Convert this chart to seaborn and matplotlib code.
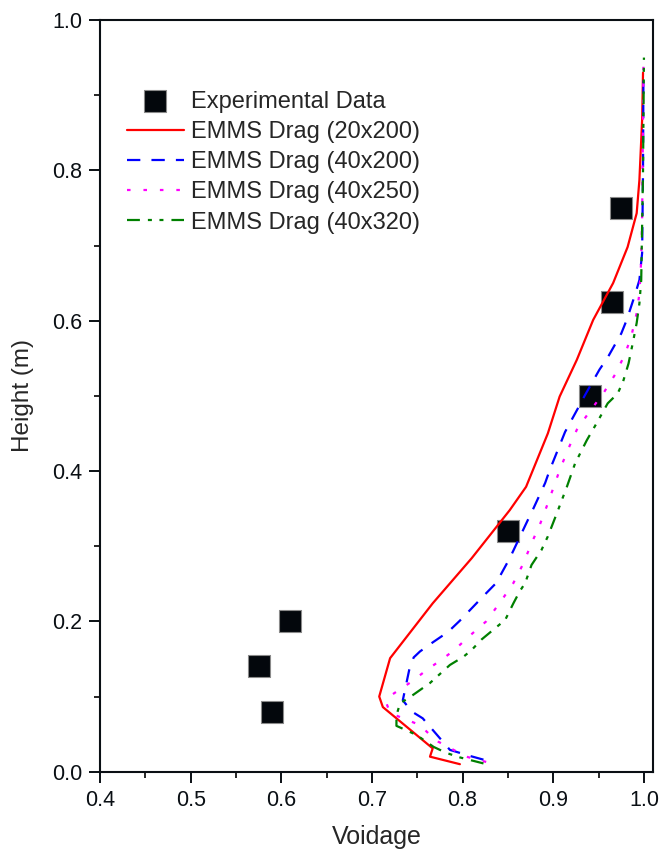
import numpy as np
import matplotlib
matplotlib.use("Agg")
import matplotlib.pyplot as plt
import seaborn as sns
from matplotlib.ticker import MultipleLocator

# ── Data ─────────────────────────────────────────────────────────────────────
exp_x = [0.59, 0.575, 0.61, 0.85, 0.94, 0.965, 0.975]
exp_y = [0.08, 0.14, 0.20, 0.32, 0.50, 0.625, 0.75]

red_x = [0.797, 0.764, 0.767, 0.712, 0.708, 0.720, 0.767, 0.810, 0.852, 0.870,
         0.894, 0.907, 0.926, 0.944, 0.966, 0.982, 0.992, 0.995, 0.998, 0.999]
red_y = [0.010, 0.020, 0.031, 0.086, 0.100, 0.151, 0.224, 0.284, 0.348, 0.379,
         0.450, 0.499, 0.548, 0.601, 0.650, 0.698, 0.743, 0.787, 0.867, 0.930]

blue_x = [0.823, 0.808, 0.786, 0.756, 0.744, 0.734, 0.741, 0.746, 0.753, 0.767,
          0.784, 0.797, 0.824, 0.837, 0.852, 0.872, 0.878, 0.891, 0.896, 0.907,
          0.913, 0.927, 0.935, 0.951, 0.960, 0.975, 0.981, 0.990, 0.995, 0.998,
          0.999, 0.9995]
blue_y = [0.016, 0.021, 0.029, 0.071, 0.080, 0.095, 0.135, 0.152, 0.160, 0.172,
          0.186, 0.201, 0.235, 0.251, 0.284, 0.335, 0.350, 0.384, 0.401, 0.434,
          0.452, 0.483, 0.501, 0.535, 0.551, 0.583, 0.601, 0.634, 0.654, 0.690,
          0.800, 0.935]

pink_x = [0.826, 0.804, 0.773, 0.764, 0.753, 0.720, 0.716, 0.719, 0.744, 0.760,
          0.779, 0.791, 0.808, 0.826, 0.843, 0.856, 0.867, 0.876, 0.885, 0.894,
          0.907, 0.916, 0.926, 0.940, 0.955, 0.968, 0.979, 0.986, 0.992, 0.995,
          0.997, 0.998, 0.9995]
pink_y = [0.013, 0.020, 0.040, 0.049, 0.062, 0.078, 0.091, 0.100, 0.120, 0.135,
          0.151, 0.162, 0.181, 0.200, 0.228, 0.251, 0.277, 0.304, 0.328, 0.357,
          0.401, 0.428, 0.455, 0.479, 0.503, 0.528, 0.555, 0.579, 0.610, 0.636,
          0.681, 0.734, 0.940]

green_x = [0.823, 0.797, 0.782, 0.768, 0.749, 0.727, 0.727, 0.731, 0.744, 0.764,
           0.775, 0.786, 0.801, 0.810, 0.821, 0.834, 0.847, 0.856, 0.863, 0.869,
           0.876, 0.887, 0.894, 0.904, 0.915, 0.924, 0.937, 0.948, 0.960, 0.971,
           0.977, 0.983, 0.988, 0.992, 0.995, 0.997, 0.999, 1.000]
green_y = [0.011, 0.019, 0.025, 0.033, 0.049, 0.061, 0.075, 0.091, 0.101, 0.118,
           0.130, 0.142, 0.153, 0.162, 0.176, 0.189, 0.202, 0.224, 0.240, 0.251,
           0.275, 0.295, 0.313, 0.344, 0.379, 0.410, 0.441, 0.464, 0.490, 0.503,
           0.519, 0.543, 0.572, 0.597, 0.623, 0.654, 0.800, 0.950]

# ── Style ────────────────────────────────────────────────────────────────────
sns.set_style("ticks")
plt.rcParams["font.family"] = ["Liberation Sans", "DejaVu Sans"]

fig = plt.figure(figsize=(6.6, 8.56), dpi=100)
ax = fig.add_axes([100 / 660, 1 - 771.7 / 856, 553 / 660, 751.7 / 856])

sns.scatterplot(x=exp_x, y=exp_y, marker="s", s=250, color="#03070c",
                edgecolor="#8a8a8a", linewidth=0.8, label="Experimental Data",
                zorder=2, ax=ax)

series = [
    (red_x, red_y, "#ff0000", "-", "EMMS Drag (20x200)"),
    (blue_x, blue_y, "#0000ff", (0, (6.0, 5.0)), "EMMS Drag (40x200)"),
    (pink_x, pink_y, "#ff00ff", (0, (1.6, 5.8)), "EMMS Drag (40x250)"),
    (green_x, green_y, "#008000", (0, (5.8, 3.6, 1.8, 3.4, 1.8, 3.6)),
     "EMMS Drag (40x320)"),
]
for xs, ys, col, ls, lab in series:
    sns.lineplot(x=xs, y=ys, sort=False, estimator=None, color=col,
                 linestyle=ls, lw=1.6, label=lab, zorder=3, ax=ax)

ax.set_xlim(0.4, 1.01)
ax.set_ylim(0.0, 1.0)
ax.xaxis.set_major_locator(MultipleLocator(0.1))
ax.xaxis.set_minor_locator(MultipleLocator(0.05))
ax.yaxis.set_major_locator(MultipleLocator(0.2))
ax.yaxis.set_minor_locator(MultipleLocator(0.1))
ax.xaxis.set_major_formatter(plt.FuncFormatter(lambda v, p: f"{v:.1f}"))
ax.yaxis.set_major_formatter(plt.FuncFormatter(lambda v, p: f"{v:.1f}"))

for sp in ax.spines.values():
    sp.set_visible(True)
    sp.set_linewidth(1.5)
    sp.set_color("#0a0f14")
ax.tick_params(which="major", direction="out", length=8, width=1.4,
               labelsize=15.5, pad=5, colors="#0a0f14", top=False, right=False)
ax.tick_params(which="minor", direction="out", length=4, width=1.4,
               top=False, right=False)

ax.set_xlabel("Voidage", fontsize=18, labelpad=10)
ax.set_ylabel("Height (m)", fontsize=17.5, labelpad=13)

ax.legend(loc="upper left", bbox_to_anchor=(0.049, 0.906), frameon=False,
          fontsize=17, borderaxespad=0, borderpad=0, labelspacing=0.35,
          handlelength=2.4, handletextpad=0.3)

fig.savefig("out.png", dpi=100)
